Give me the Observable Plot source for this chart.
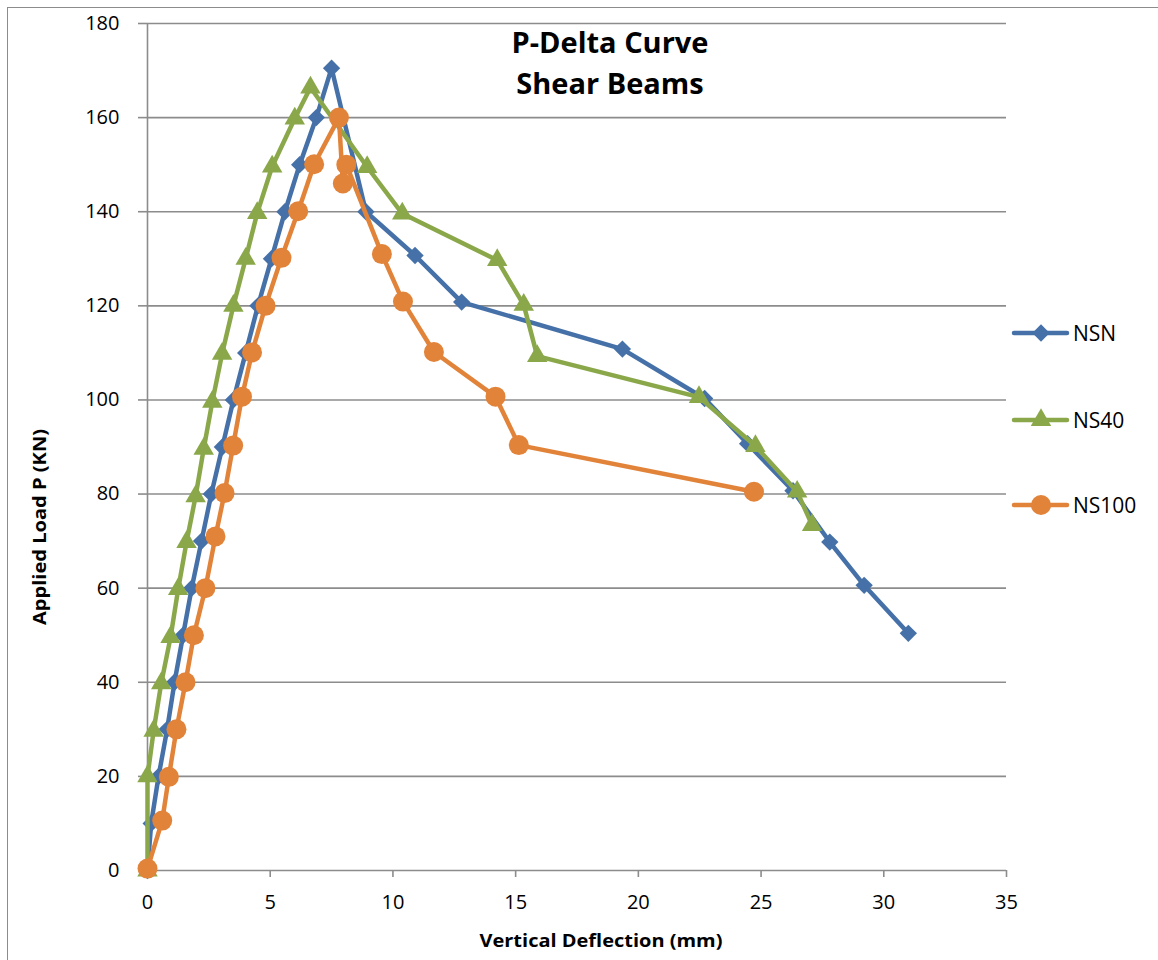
<!DOCTYPE html>
<html><head><meta charset="utf-8">
<script src="https://cdn.jsdelivr.net/npm/d3@7"></script>
<script src="https://cdn.jsdelivr.net/npm/@observablehq/plot@0.6"></script>
<style>
body{margin:0;background:#fff;}
#wrap{position:relative;width:1158px;height:960px;overflow:hidden;font-family:"Open Sans",sans-serif;background:#fff;}
#chart{position:absolute;left:0;top:0;}
#border{position:absolute;left:7px;top:7px;width:2000px;height:2000px;border-left:1px solid #8c8c8c;border-top:1px solid #8c8c8c;pointer-events:none;}
#overlay{position:absolute;left:0;top:0;pointer-events:none;}
</style></head><body>
<div id="wrap"><div id="chart"></div><div id="border"></div><svg id="overlay" width="1158" height="960"></svg></div>
<script>
// ---- data ----
const seriesNames = ["NSN", "NS40", "NS100"];
const seriesColors = ["#4571A8", "#8AA84A", "#E2833A"];
const seriesSymbols = ["diamond2", "triangle", "circle"];

const nsnDeflection = [0, 0.15, 0.45, 0.8, 1.1, 1.45, 1.8, 2.2, 2.6, 3.05, 3.5, 4.0, 4.5, 5.05, 5.6, 6.2, 6.88, 7.5, 8.9, 10.9, 12.8, 19.35, 22.7, 24.45, 26.3, 27.8, 29.2, 31.0];
const nsnLoad       = [0, 10, 20, 30, 40, 50, 60, 70, 80, 90, 100, 110, 120, 130, 140, 150, 160, 170.5, 140, 130.7, 120.8, 110.8, 100.3, 90.7, 80.7, 69.8, 60.6, 50.4];

const ns40Deflection = [0, 0, 0.25, 0.56, 0.94, 1.25, 1.59, 1.96, 2.29, 2.64, 3.04, 3.5, 4.0, 4.47, 5.08, 6.0, 6.64, 8.95, 10.38, 14.25, 15.33, 15.88, 22.47, 24.77, 26.47, 27.08];
const ns40Load       = [0, 20, 29.7, 39.8, 49.6, 59.8, 69.8, 79.5, 89.6, 99.6, 109.8, 120, 130, 139.7, 149.6, 159.8, 166.4, 149.5, 139.6, 129.7, 120.2, 109.3, 100.6, 90.2, 80.5, 73.4];

const ns100Deflection = [0, 0.6, 0.87, 1.18, 1.55, 1.89, 2.36, 2.77, 3.14, 3.49, 3.85, 4.26, 4.81, 5.46, 6.14, 6.79, 7.8, 7.96, 8.1, 9.55, 10.41, 11.67, 14.18, 15.13, 24.71];
const ns100Load       = [0.4, 10.6, 19.9, 30, 40, 50, 60, 71, 80.2, 90.3, 100.7, 110.1, 120, 130.2, 140.1, 150.1, 160, 146, 150, 131, 120.9, 110.2, 100.7, 90.4, 80.5];

const xTicks = [0, 5, 10, 15, 20, 25, 30, 35];
const yTicks = [0, 20, 40, 60, 80, 100, 120, 140, 160, 180];

const titleLines = ["P-Delta Curve", "Shear Beams"];
const xLabel = "Vertical Deflection (mm)";
const yLabel = "Applied Load P (KN)";

// ---- build ----
const xs = [nsnDeflection, ns40Deflection, ns100Deflection];
const ys = [nsnLoad, ns40Load, ns100Load];
const tables = seriesNames.map((name, i) => xs[i].map((d, j) => ({series: name, x: d, y: ys[i][j]})));
const markerR = [7.8, 7.6, 10];

const gridColor = "#8c8c8c";
const seriesMarks = [];
tables.forEach((t, i) => {
  seriesMarks.push(Plot.line(t, {x: "x", y: "y", stroke: seriesColors[i], strokeWidth: 4.5, strokeLinejoin: "round"}));
  seriesMarks.push(Plot.dot(t, {x: "x", y: "y", symbol: seriesSymbols[i], r: markerR[i], fill: seriesColors[i], stroke: "none"}));
});

const chart = Plot.plot({
  width: 1158,
  height: 960,
  marginLeft: 147,
  marginRight: 152,
  marginTop: 23,
  marginBottom: 90,
  style: {background: "transparent", fontFamily: "'Open Sans', sans-serif", color: "#000"},
  x: {domain: [0, 35]},
  y: {domain: [0, 180]},
  marks: [
    Plot.gridY(yTicks, {stroke: gridColor, strokeOpacity: 1, strokeWidth: 1.6}),
    Plot.ruleX([0], {stroke: gridColor, strokeWidth: 1.6}),
    Plot.axisX(xTicks, {tickSize: 7, tickPadding: 17, stroke: gridColor, strokeWidth: 1.6, fill: "#000", fontSize: 20, label: null}),
    Plot.axisY(yTicks, {tickSize: 9, tickPadding: 19, stroke: gridColor, strokeWidth: 1.6, fill: "#000", fontSize: 20, label: null}),
    ...seriesMarks
  ]
});
document.getElementById("chart").appendChild(chart);

// ---- overlay text & legend ----
const ov = d3.select("#overlay");
const ff = "'Open Sans', sans-serif";
titleLines.forEach((t, i) => {
  ov.append("text").attr("x", 610).attr("y", 53 + i * 41).attr("text-anchor", "middle")
    .attr("font-family", ff).attr("font-weight", 700).attr("font-size", 29).text(t);
});
ov.append("text").attr("x", 601).attr("y", 947).attr("text-anchor", "middle")
  .attr("font-family", ff).attr("font-weight", 700).attr("font-size", 17)
  .attr("textLength", 243).attr("lengthAdjust", "spacingAndGlyphs").text(xLabel);
ov.append("text").attr("transform", "translate(46,527) rotate(-90)").attr("text-anchor", "middle")
  .attr("font-family", ff).attr("font-weight", 700).attr("font-size", 17)
  .attr("textLength", 196).attr("lengthAdjust", "spacingAndGlyphs").text(yLabel);

const legendY = [333, 420, 505];
const symMap = {diamond2: d3.symbolDiamond2, triangle: d3.symbolTriangle, circle: d3.symbolCircle};
seriesNames.forEach((name, i) => {
  const g = ov.append("g").attr("transform", `translate(0,${legendY[i]})`);
  g.append("line").attr("x1", 1014).attr("x2", 1067).attr("y1", 0).attr("y2", 0)
    .attr("stroke", seriesColors[i]).attr("stroke-width", 4.5).attr("stroke-linecap", "round");
  g.append("path").attr("transform", "translate(1041,0)")
    .attr("d", d3.symbol(symMap[seriesSymbols[i]], Math.PI * markerR[i] * markerR[i])())
    .attr("fill", seriesColors[i]);
  g.append("text").attr("x", 1073).attr("y", 0).attr("dy", "0.36em")
    .attr("font-family", ff).attr("font-size", 21).text(name);
});
</script>
</body></html>
